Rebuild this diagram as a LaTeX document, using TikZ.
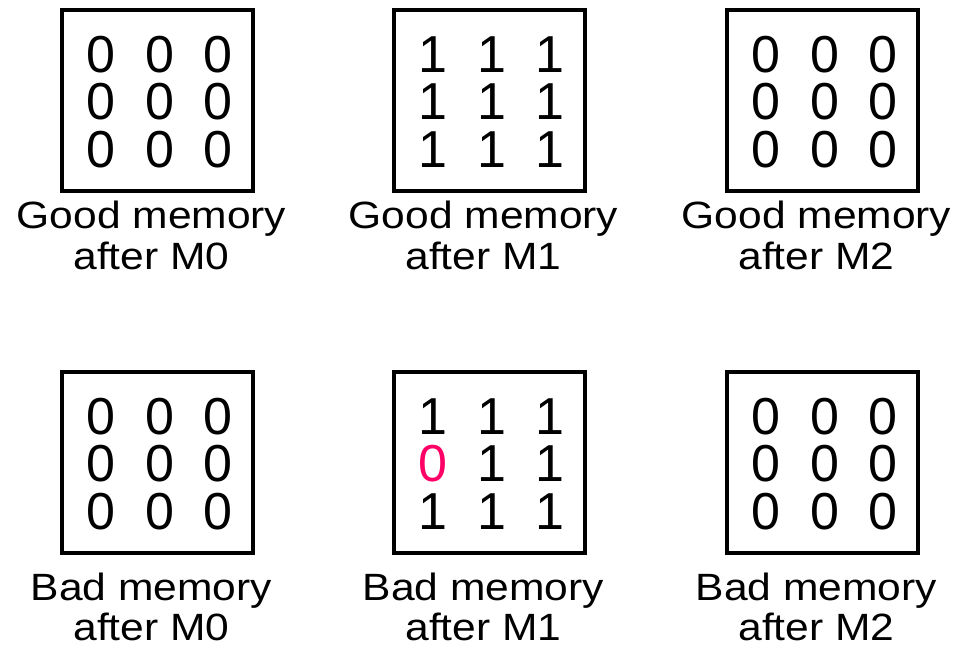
\documentclass[tikz,border=0pt]{standalone}
\usepackage{fontspec}
\setmainfont{Liberation Sans}
\newfontfamily\labelfont[FakeStretch=1.12]{Liberation Sans}
\usetikzlibrary{calc}
\definecolor{pk}{RGB}{255,0,102}
\tikzset{
  membox/.style={draw, line width=3.8pt, minimum width=191pt, minimum height=181pt, inner sep=0pt},
  digit/.style={inner sep=0pt, font=\fontsize{52}{52}\selectfont},
  lbl/.style={inner sep=0pt, anchor=base, font=\labelfont\fontsize{38}{40}\selectfont},
}
\newcommand\memgrid[4]{%
  \node[membox] (#1) at (#2,#3) {};
  \foreach \a/\b/\c [count=\r] in {#4} {
    \node[digit] (#1-\r-1) at ($(#1.center)+(-56.5,{(\r-2)*47.75+1.5})$) {\a};
    \node[digit] (#1-\r-2) at ($(#1.center)+(2.5,{(\r-2)*47.75+1.5})$) {\b};
    \node[digit] (#1-\r-3) at ($(#1.center)+(60.5,{(\r-2)*47.75+1.5})$) {\c};
  }
}
\begin{document}
\begin{tikzpicture}[x=1pt,y=-1pt]
\useasboundingbox (0,0) rectangle (956,646);
% top row
\memgrid{g0}{157.5}{100.5}{0/0/0,0/0/0,0/0/0}
\memgrid{g1}{489.5}{100.5}{1/1/1,1/1/1,1/1/1}
\memgrid{g2}{822.5}{100.5}{0/0/0,0/0/0,0/0/0}
% bottom row
\memgrid{b0}{157.5}{462.5}{0/0/0,0/0/0,0/0/0}
\memgrid{b1}{489.5}{462.5}{1/1/1,{\textcolor{pk}{0}}/1/1,1/1/1}
\memgrid{b2}{822.5}{462.5}{0/0/0,0/0/0,0/0/0}
% labels
\node[lbl] (g0l1) at ($(g0.center)+(-6,127.8)$) {Good memory};
\node[lbl] (g0l2) at ($(g0.center)+(-6,168.5)$) {after M0};
\node[lbl] (g1l1) at ($(g1.center)+(-6,127.8)$) {Good memory};
\node[lbl] (g1l2) at ($(g1.center)+(-6,168.5)$) {after M1};
\node[lbl] (g2l1) at ($(g2.center)+(-6,127.8)$) {Good memory};
\node[lbl] (g2l2) at ($(g2.center)+(-6,168.5)$) {after M2};
\node[lbl] (b0l1) at ($(b0.center)+(-6,138.2)$) {Bad memory};
\node[lbl] (b0l2) at ($(b0.center)+(-6,177.5)$) {after M0};
\node[lbl] (b1l1) at ($(b1.center)+(-6,138.2)$) {Bad memory};
\node[lbl] (b1l2) at ($(b1.center)+(-6,177.5)$) {after M1};
\node[lbl] (b2l1) at ($(b2.center)+(-6,138.2)$) {Bad memory};
\node[lbl] (b2l2) at ($(b2.center)+(-6,177.5)$) {after M2};
\end{tikzpicture}
\end{document}
